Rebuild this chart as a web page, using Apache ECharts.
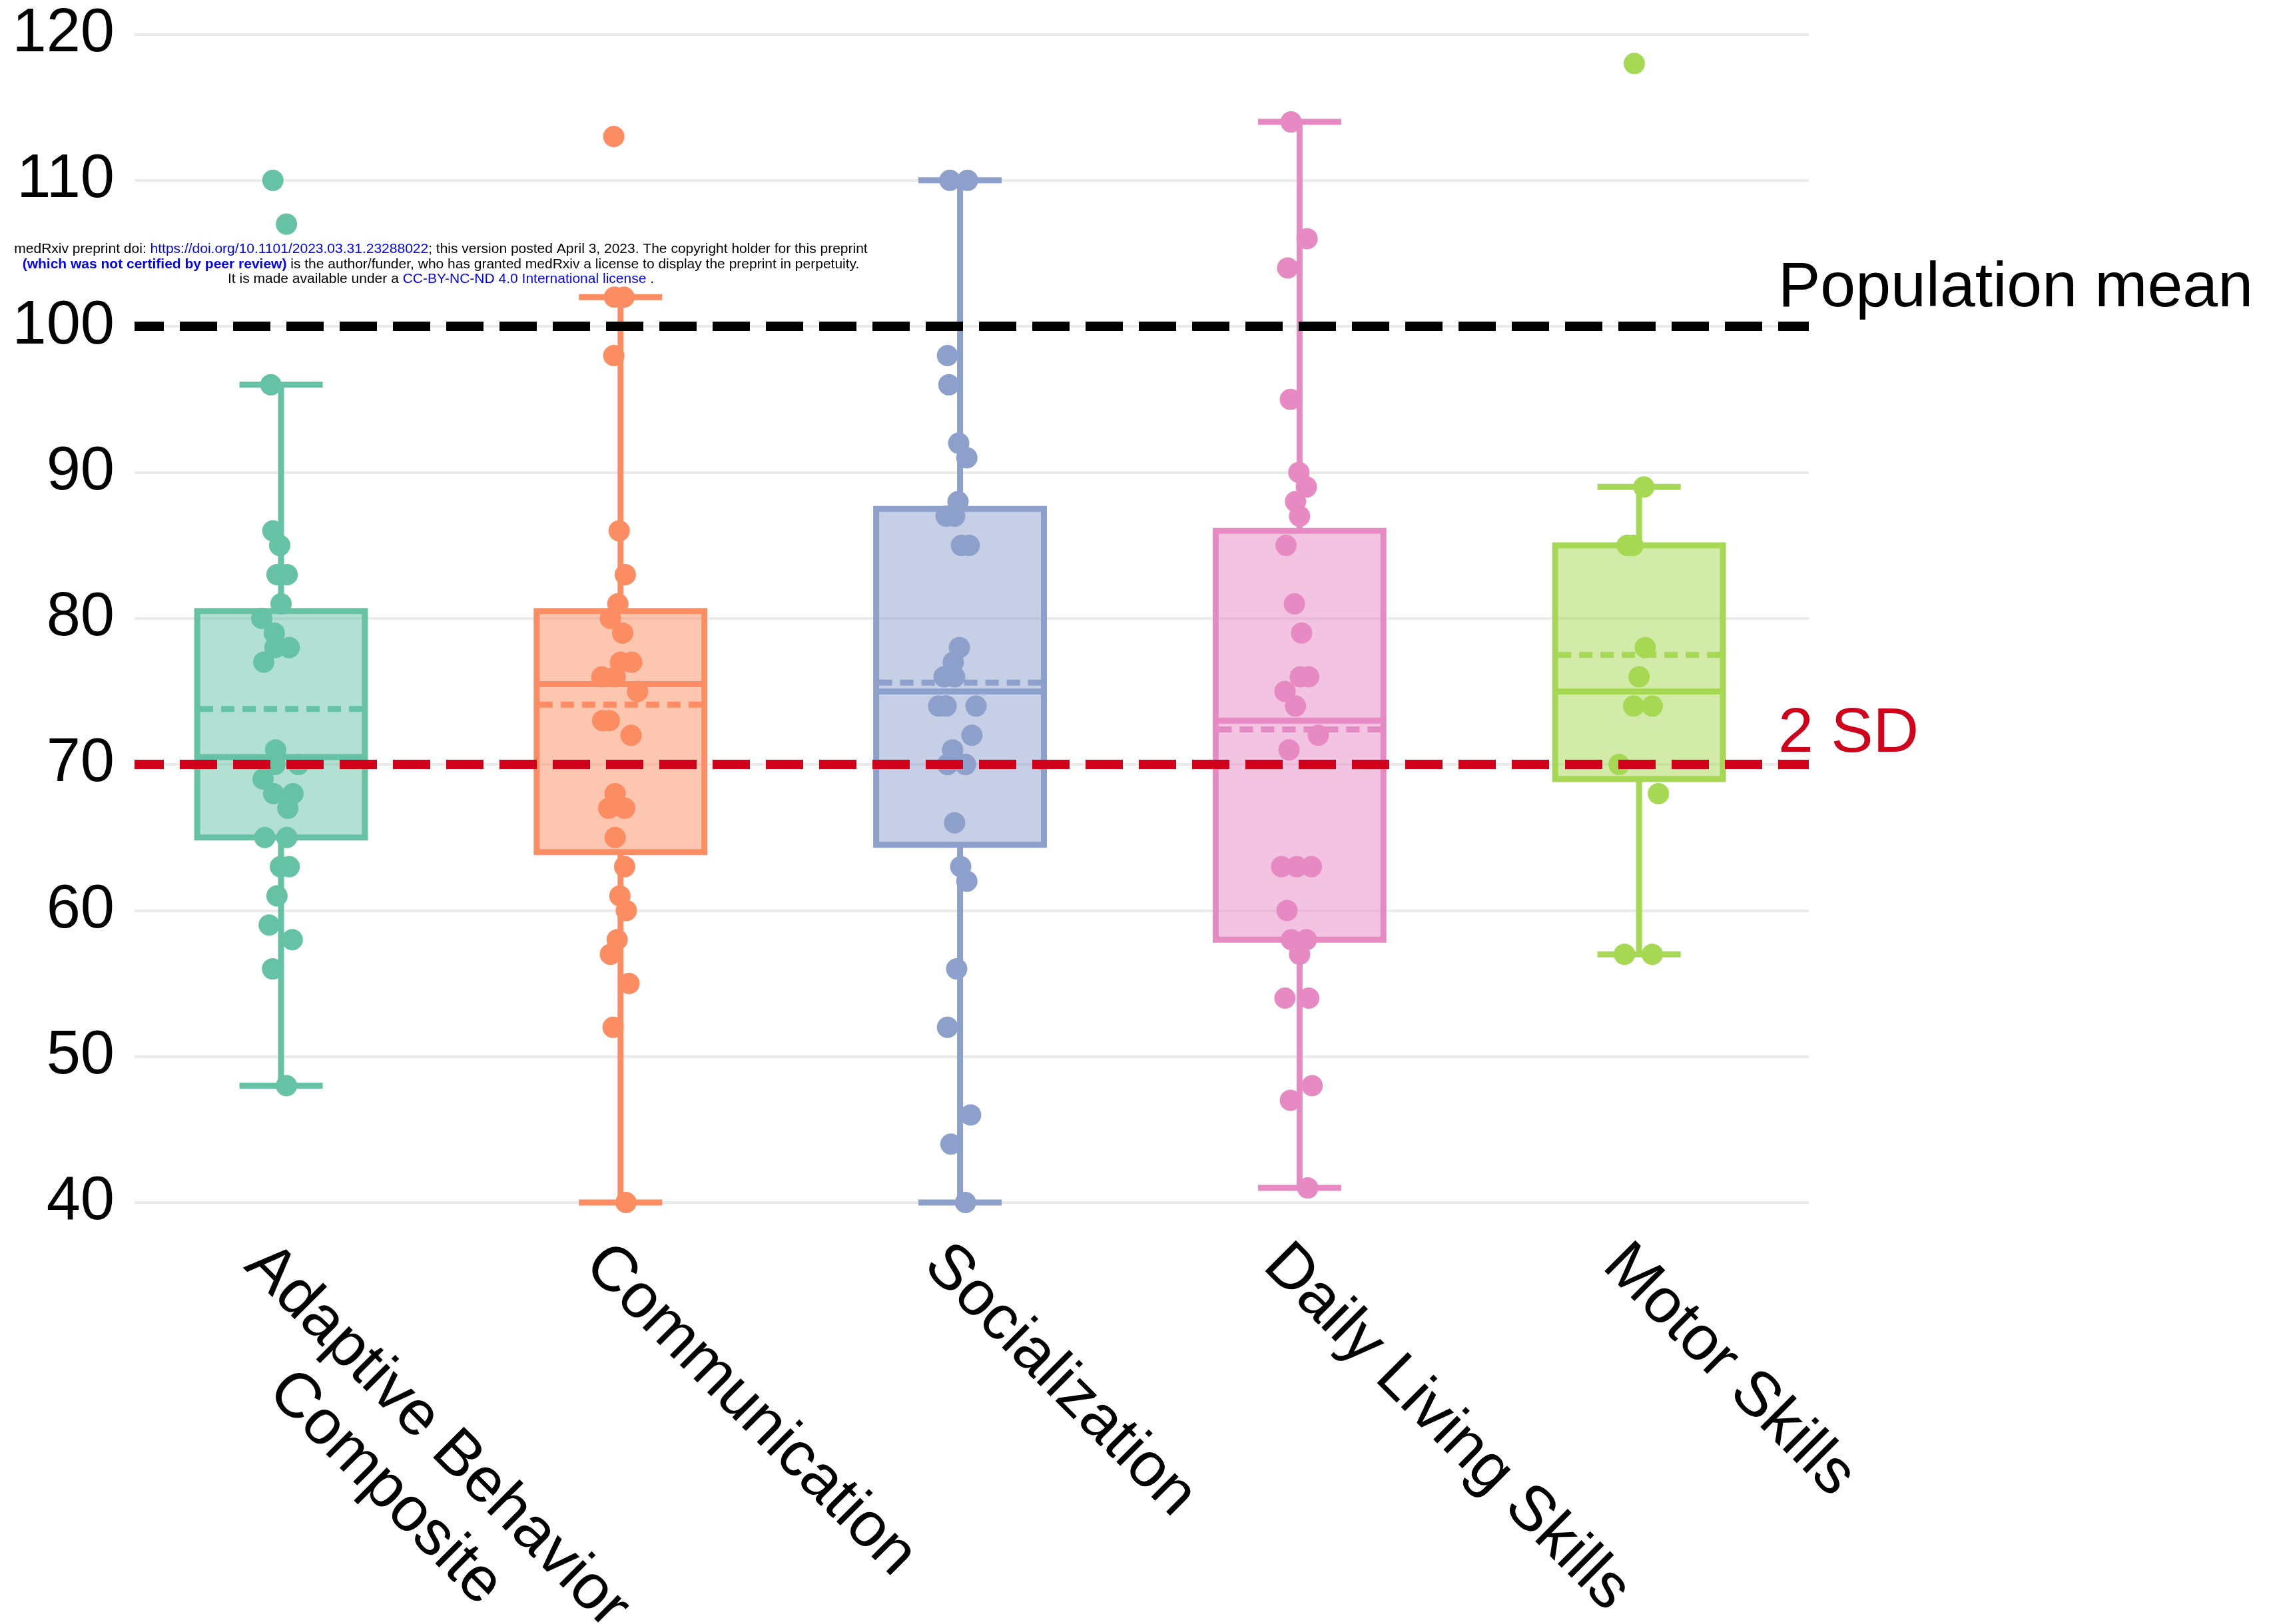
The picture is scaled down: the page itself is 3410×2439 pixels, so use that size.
<!DOCTYPE html>
<html><head><meta charset="utf-8">
<script src="https://cdn.jsdelivr.net/npm/echarts@6/dist/echarts.min.js"></script>
<style>html,body{margin:0;padding:0;background:#fff}#c{width:3410px;height:2439px}</style>
</head><body><div id="c"></div>
<script>
// ---------------- data ----------------
const categories = ['Adaptive Behavior\nComposite', 'Communication', 'Socialization', 'Daily Living Skills', 'Motor Skills'];
const yTickMin = 40, yTickMax = 120, yTickStep = 10;

// individual scores and their horizontal jitter (category units)
const abcScores = [110,107,96,86,85,83,83,81,80,79,78,78,77,71,70,70,69,68,68,67,65,65,63,63,61,59,58,56,48];
const abcJitter = [-0.024,0.016,-0.03,-0.024,-0.004,-0.012,0.018,0,-0.057,-0.02,-0.018,0.024,-0.051,-0.016,-0.018,0.051,-0.053,-0.022,0.035,0.02,-0.048,0.017,-0.002,0.024,-0.012,-0.035,0.033,-0.025,0.016];
const comScores = [113,102,102,98,86,83,81,80,79,77,77,76,76,75,73,73,72,68,67,67,65,63,61,60,58,57,55,52,40];
const comJitter = [-0.02,-0.018,0.01,-0.02,-0.004,0.014,-0.008,-0.03,0.006,0,0.033,-0.055,-0.016,0.05,-0.053,-0.033,0.031,-0.016,-0.035,0.012,-0.016,0.012,-0.002,0.017,-0.01,-0.03,0.025,-0.022,0.016];
const socScores = [110,110,98,96,92,91,88,87,87,85,85,78,77,76,76,74,74,74,72,71,70,70,66,63,62,56,52,46,44,40];
const socJitter = [-0.03,0.022,-0.037,-0.033,-0.004,0.02,-0.006,-0.041,-0.016,0.004,0.027,-0.002,-0.02,-0.047,-0.016,-0.063,-0.041,0.047,0.035,-0.022,-0.037,0.016,-0.016,0.002,0.02,-0.01,-0.037,0.031,-0.027,0.016];
const dlsScores = [114,106,104,95,90,89,88,87,85,81,79,76,76,75,74,72,71,63,63,63,60,58,58,57,54,54,48,47,41];
const dlsJitter = [-0.025,0.022,-0.035,-0.027,-0.002,0.02,-0.012,0,-0.04,-0.015,0.006,0.002,0.027,-0.043,-0.012,0.055,-0.031,-0.053,-0.008,0.035,-0.037,-0.024,0.02,0,-0.043,0.027,0.037,-0.027,0.024];
const motScores = [118,89,85,85,78,76,74,74,70,68,57,57];
const motJitter = [-0.014,0.014,-0.035,-0.018,0.018,0,-0.016,0.039,-0.059,0.057,-0.043,0.039];

// box statistics
const whiskerLow  = [48, 40, 40, 41, 57];
const quartile1   = [65, 64, 64.5, 58, 69];
const medians     = [70.5, 75.5, 75, 73, 75];
const quartile3   = [80.5, 80.5, 87.5, 86, 85];
const whiskerHigh = [96, 102, 110, 114, 89];
const means       = [73.8, 74.1, 75.6, 72.4, 77.5];

const populationMean = 100;
const twoSD = 70;

// ---------------- style ----------------
const colors = ['#66c2a5', '#fc8d62', '#8da0cb', '#e78ac3', '#a6d854'];
const fills  = ['rgba(102,194,165,0.5)', 'rgba(252,141,98,0.5)', 'rgba(141,160,203,0.5)', 'rgba(231,138,195,0.5)', 'rgba(166,216,84,0.5)'];
const FONT = '"Liberation Sans", Arial, Helvetica, sans-serif';
const RED = '#d0021b';

const scoreSets = [abcScores, comScores, socScores, dlsScores, motScores];
const jitterSets = [abcJitter, comJitter, socJitter, dlsJitter, motJitter];

function renderBox(params, api) {
  const i = api.value(0);
  const lo = api.coord([i, api.value(1)]);
  const b1 = api.coord([i, api.value(2)]);
  const md = api.coord([i, api.value(3)]);
  const b3 = api.coord([i, api.value(4)]);
  const hi = api.coord([i, api.value(5)]);
  const mn = api.coord([i, api.value(6)]);
  const band = api.size([1, 0])[0];
  const hw = band * 0.247;
  const cw = band * 0.1226;
  const cx = lo[0];
  const c = colors[i];
  const lw = 9;
  return {
    type: 'group',
    children: [
      { type: 'line', shape: { x1: cx, y1: hi[1], x2: cx, y2: b3[1] }, style: { stroke: c, lineWidth: lw } },
      { type: 'line', shape: { x1: cx, y1: b1[1], x2: cx, y2: lo[1] }, style: { stroke: c, lineWidth: lw } },
      { type: 'line', shape: { x1: cx - cw, y1: hi[1], x2: cx + cw, y2: hi[1] }, style: { stroke: c, lineWidth: lw } },
      { type: 'line', shape: { x1: cx - cw, y1: lo[1], x2: cx + cw, y2: lo[1] }, style: { stroke: c, lineWidth: lw } },
      { type: 'rect', shape: { x: cx - hw, y: b3[1], width: 2 * hw, height: b1[1] - b3[1] }, style: { fill: fills[i], stroke: c, lineWidth: lw } },
      { type: 'line', shape: { x1: cx - hw, y1: md[1], x2: cx + hw, y2: md[1] }, style: { stroke: c, lineWidth: lw } },
      { type: 'line', shape: { x1: cx - hw + 4, y1: mn[1], x2: cx + hw - 4, y2: mn[1] }, style: { stroke: c, lineWidth: lw, lineDash: [20, 12] } }
    ]
  };
}

const series = [{
  type: 'custom',
  renderItem: renderBox,
  data: categories.map((c, i) => [i, whiskerLow[i], quartile1[i], medians[i], quartile3[i], whiskerHigh[i], means[i]]),
  encode: { x: 0, y: [1, 2, 3, 4, 5, 6] },
  silent: true,
  z: 2,
  markLine: {
    silent: true,
    symbol: ['none', 'none'],
    z: 10,
    animation: false,
    data: [
      {
        yAxis: populationMean,
        lineStyle: { color: '#000', width: 14, type: [56, 24], dashOffset: 12 },
        label: { show: true, position: 'end', formatter: 'Population mean', color: '#000', fontSize: 95, fontFamily: FONT, distance: 0, offset: [-46, -56] }
      },
      {
        yAxis: twoSD,
        lineStyle: { color: RED, width: 14, type: [56, 24], dashOffset: 12 },
        label: { show: true, position: 'end', formatter: '2 SD', color: RED, fontSize: 95, fontFamily: FONT, distance: 0, offset: [-46, -45] }
      }
    ]
  }
}];

scoreSets.forEach((vals, i) => {
  series.push({
    type: 'scatter',
    data: vals.map((v, k) => [i + jitterSets[i][k], v]),
    symbol: 'circle',
    symbolSize: 32,
    itemStyle: { color: colors[i], opacity: 1 },
    silent: true,
    z: 3
  });
});

const chart = echarts.init(document.getElementById('c'), null, { renderer: 'canvas' });
chart.setOption({
  animation: false,
  backgroundColor: '#fff',
  grid: { left: 202, right: 694, top: 51.5, bottom: 633, containLabel: false, outerBoundsMode: 'none' },
  xAxis: {
    type: 'value',
    min: -0.4316,
    max: 4.5,
    axisLine: { show: false },
    axisTick: { show: false },
    splitLine: { show: false },
    axisLabel: {
      customValues: [0, 1, 2, 3, 4],
      rotate: -45,
      margin: 40,
      align: 'left',
      verticalAlign: 'top',
      formatter: v => categories[Math.round(v)].split('\n').map(s => '{c|' + s + '}').join('\n'),
      rich: { c: { fontSize: 95, fontFamily: FONT, color: '#000', align: 'center', lineHeight: 110 } }
    }
  },
  yAxis: {
    type: 'value',
    min: yTickMin,
    max: yTickMax,
    interval: yTickStep,
    axisLine: { show: false },
    axisTick: { show: false },
    axisLabel: { fontSize: 92, fontFamily: FONT, color: '#000', margin: 30 },
    splitLine: { lineStyle: { color: '#ebebeb', width: 4 } }
  },
  graphic: [
    { type: 'text', x: 662, y: 374, silent: true, style: {
      text: 'medRxiv preprint doi: {u|https://doi.org/10.1101/2023.03.31.23288022}; this version posted April 3, 2023. The copyright holder for this preprint',
      font: '21px ' + FONT, fill: '#000', align: 'center', verticalAlign: 'middle',
      rich: { u: { fill: '#0000ff', fontSize: 21, fontFamily: FONT } } } },
    { type: 'text', x: 662, y: 397, silent: true, style: {
      text: '{b|(which was not certified by peer review)} is the author/funder, who has granted medRxiv a license to display the preprint in perpetuity.',
      font: '21px ' + FONT, fill: '#000', align: 'center', verticalAlign: 'middle',
      rich: { b: { fill: '#0000ff', fontWeight: 'bold', fontSize: 21, fontFamily: FONT } } } },
    { type: 'text', x: 662, y: 419, silent: true, style: {
      text: 'It is made available under a {u|CC-BY-NC-ND 4.0 International license} .',
      font: '21px ' + FONT, fill: '#000', align: 'center', verticalAlign: 'middle',
      rich: { u: { fill: '#0000ff', fontSize: 21, fontFamily: FONT } } } }
  ],
  series: series
});
</script>
</body></html>
